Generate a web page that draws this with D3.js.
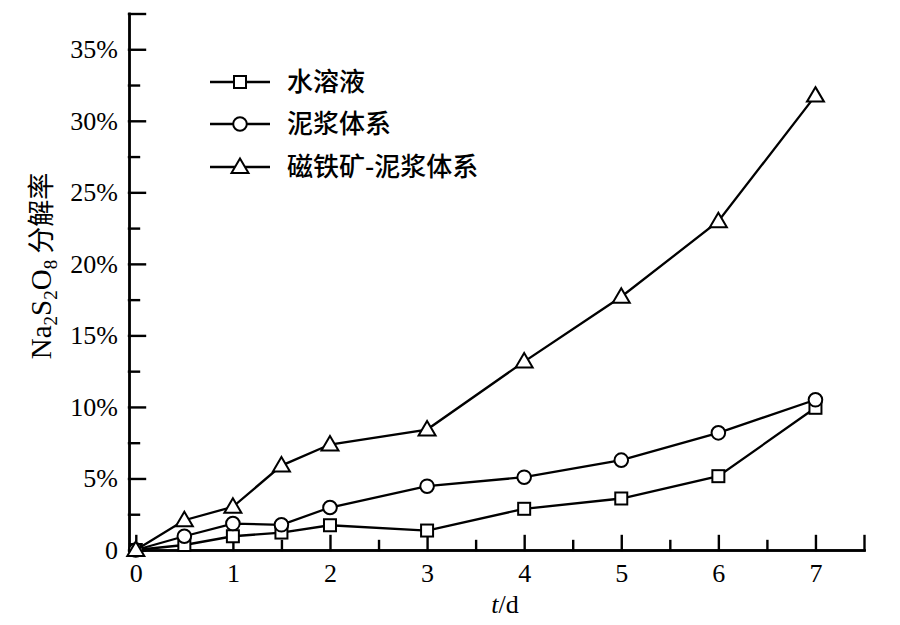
<!DOCTYPE html>
<html>
<head>
<meta charset="utf-8">
<script src="https://cdn.jsdelivr.net/npm/d3@7"></script>
<style>
	body { margin: 0; background: #fff; }
	svg { display: block; }
</style>
</head>
<body>
<svg id="chart" width="900" height="625"></svg>
<script>
// days
var days = [0, 0.5, 1, 1.5, 2, 3, 4, 5, 6, 7];
// decomposition rate, %
var water = [0, 0.35, 0.96, 1.22, 1.73, 1.36, 2.88, 3.6, 5.16, 9.94];
var slurry = [0, 0.96, 1.85, 1.76, 2.97, 4.46, 5.09, 6.28, 8.19, 10.5];
var magnetite = [0, 2.08, 3.02, 5.9, 7.37, 8.42, 13.17, 17.7, 22.98, 31.76];

var series_names = ["水溶液", "泥浆体系", "磁铁矿-泥浆体系"];
var series_marks = ["square", "circle", "triangle"];

var x_major = [0, 1, 2, 3, 4, 5, 6, 7, 7.5];
var x_minor = [0.5, 1.5, 2.5, 3.5, 4.5, 5.5, 6.5];
var y_major = [0, 5, 10, 15, 20, 25, 30, 35, 37.5];
var y_minor = [2.5, 7.5, 12.5, 17.5, 22.5, 27.5, 32.5];

var svg = d3.select("#chart");
var serif = "Liberation Serif, serif";

var x = d3.scaleLinear().domain([-0.07, 7.5]).range([129, 864]);
var y = d3.scaleLinear().domain([0, 37.5]).range([550, 13.5]);

draw_axes();
draw_series([water, slurry, magnetite]);
draw_legend();

function style_axis(g) {
	g.attr("font-family", serif).attr("font-size", 26);
	g.selectAll(".domain, .tick line")
		.attr("stroke", "#000")
		.attr("stroke-width", 2.4)
		.attr("stroke-linecap", "square");
	g.selectAll(".tick text")
		.attr("font-family", serif)
		.attr("font-size", 26)
		.attr("fill", "#000");
}

function draw_axes() {
	var gx_minor = svg.append("g").attr("transform", "translate(0,550)")
		.call(d3.axisBottom(x).tickValues(x_minor).tickSizeInner(-9).tickSizeOuter(0).tickFormat(function() { return ""; }));
	var gx = svg.append("g").attr("transform", "translate(0,550)")
		.call(d3.axisBottom(x).tickValues(x_major).tickSizeInner(-14).tickSizeOuter(0).tickPadding(14)
			.tickFormat(function(d) { return d == 7.5 ? "" : d; }));

	var gy_minor = svg.append("g").attr("transform", "translate(129,0)")
		.call(d3.axisLeft(y).tickValues(y_minor).tickSizeInner(-10).tickSizeOuter(0).tickFormat(function() { return ""; }));
	var gy = svg.append("g").attr("transform", "translate(129,0)")
		.call(d3.axisLeft(y).tickValues(y_major).tickSizeInner(-16).tickSizeOuter(0).tickPadding(11)
			.tickFormat(function(d) { return d == 37.5 ? "" : (d == 0 ? "0" : d + "%"); }));

	[gx_minor, gx, gy_minor, gy].forEach(style_axis);

	// x label
	var xl = svg.append("text")
		.attr("x", 505)
		.attr("y", 613)
		.attr("text-anchor", "middle")
		.attr("font-family", serif)
		.attr("font-size", 26);
	xl.append("tspan").attr("font-style", "italic").text("t");
	xl.append("tspan").text("/d");

	// y label
	var yl = svg.append("text")
		.attr("transform", "translate(51,266) rotate(-90)")
		.attr("text-anchor", "middle")
		.attr("font-family", serif)
		.attr("font-size", 29);
	yl.append("tspan").text("Na");
	yl.append("tspan").attr("font-size", 19).attr("dy", 6).text("2");
	yl.append("tspan").attr("dy", -6).text("S");
	yl.append("tspan").attr("font-size", 19).attr("dy", 6).text("2");
	yl.append("tspan").attr("dy", -6).text("O");
	yl.append("tspan").attr("font-size", 19).attr("dy", 6).text("8");
	yl.append("tspan").attr("dy", -6)
		.attr("font-family", "Noto Sans CJK SC")
		.attr("font-size", 27)
		.text(" 分解率");
}

function draw_marker(g, type, cx, cy) {
	var m;
	if (type == "square") {
		m = g.append("rect")
			.attr("x", cx - 6).attr("y", cy - 6)
			.attr("width", 12).attr("height", 12);
	} else if (type == "circle") {
		m = g.append("circle")
			.attr("cx", cx).attr("cy", cy).attr("r", 6.8);
	} else {
		m = g.append("path")
			.attr("d", "M" + cx + "," + (cy - 8.5) + "L" + (cx + 8.5) + "," + (cy + 6) + "L" + (cx - 8.5) + "," + (cy + 6) + "Z");
	}
	m.attr("fill", "#fff").attr("stroke", "#000").attr("stroke-width", 2);
}

function draw_series(all) {
	var line = d3.line()
		.x(function(d, i) { return x(days[i]); })
		.y(function(d) { return y(d); });

	all.forEach(function(vals, s) {
		var g = svg.append("g");
		g.append("path")
			.attr("d", line(vals))
			.attr("fill", "none")
			.attr("stroke", "#000")
			.attr("stroke-width", 2.3);
		vals.forEach(function(v, i) {
			draw_marker(g, series_marks[s], x(days[i]), y(v));
		});
	});
}

function draw_legend() {
	var rows = [82, 124, 167];
	series_names.forEach(function(name, i) {
		var g = svg.append("g");
		g.append("line")
			.attr("x1", 210).attr("x2", 270)
			.attr("y1", rows[i]).attr("y2", rows[i])
			.attr("stroke", "#000").attr("stroke-width", 2.3);
		draw_marker(g, series_marks[i], 240, rows[i]);
		g.append("text")
			.attr("x", 287)
			.attr("y", rows[i])
			.attr("dy", "0.36em")
			.attr("font-family", "Noto Sans CJK SC")
			.attr("font-weight", 500)
			.attr("font-size", 26)
			.text(name);
	});
}
</script>
</body>
</html>
